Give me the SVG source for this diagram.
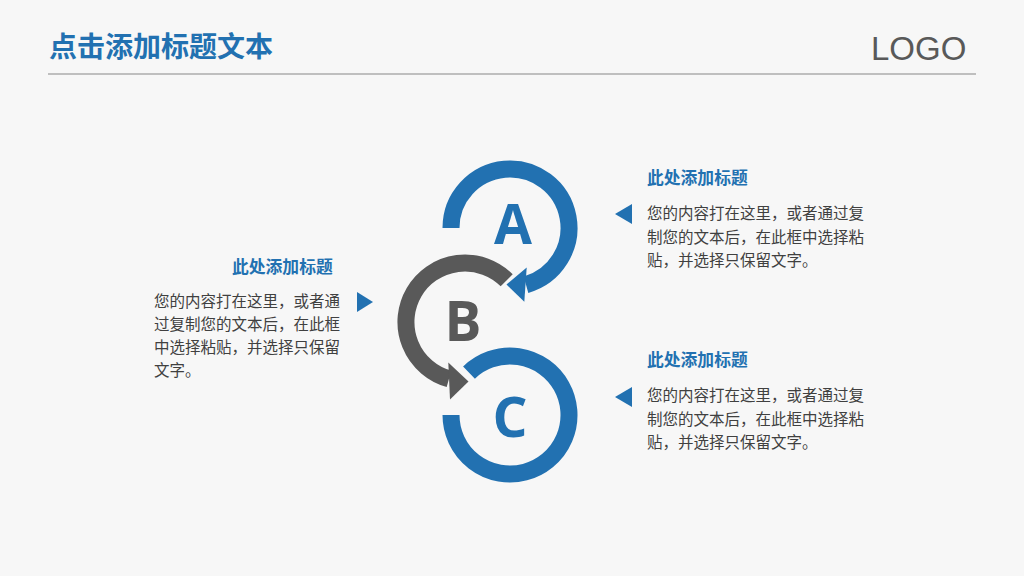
<svg xmlns="http://www.w3.org/2000/svg" width="1024" height="576" viewBox="0 0 1024 576">
  <style>
    .title { font-family: "Noto Sans CJK SC", sans-serif; font-weight: 700; font-size: 28px; fill: #2271b1; }
    .logo { font-family: "Liberation Sans", Arial, sans-serif; font-size: 33px; fill: #595959; }
    .head { font-family: "Noto Sans CJK SC", sans-serif; font-weight: 700; font-size: 16.8px; fill: #2271b1; }
    .body { font-family: "Noto Sans CJK SC", sans-serif; font-size: 15.5px; fill: #404040; }
    .ring { fill: none; stroke-width: 17; }
    .blue { stroke: #2271b1; }
    .gray { stroke: #595959; }
    .letter { font-family: "Open Sans", "Liberation Sans", sans-serif; font-weight: 700; font-size: 55px; text-anchor: middle; }
  </style>
  <rect width="1024" height="576" fill="#f7f7f7"/>

  <g id="header">
    <text class="title" x="49" y="57">点击添加标题文本</text>
    <text class="logo" x="871" y="60">LOGO</text>
    <line x1="48" y1="74" x2="976" y2="74" stroke="#bfbfbf" stroke-width="2"/>
  </g>

  <g id="connectors">
    <path class="ring blue" d="M451,228 A59,59 0 1 1 526,284.7"/>
    <polygon fill="#2271b1" points="526.7,267.5 506.5,284.5 524.3,301.8"/>
    <path class="ring gray" d="M506.7,280.3 A59,59 0 1 0 449,378.8"/>
    <polygon fill="#595959" points="448.3,362.5 468.5,381.5 450,399.5"/>
  </g>

  <g id="node-a">
    <text class="letter" x="513" y="244" fill="#2271b1">A</text>
  </g>
  <g id="node-b">
    <text class="letter" x="463" y="341" fill="#595959">B</text>
  </g>
  <g id="node-c">
    <path class="ring blue" d="M451,415 A59,59 0 1 0 469,372.6"/>
    <text class="letter" x="510" y="437" fill="#2271b1">C</text>
  </g>

  <g id="text-right-top">
    <text class="head" x="647" y="184">此处添加标题</text>
    <polygon fill="#2271b1" points="615,214 632,204 632,224"/>
    <text class="body" x="647" y="219">您的内容打在这里，或者通过复</text>
    <text class="body" x="647" y="243">制您的文本后，在此框中选择粘</text>
    <text class="body" x="647" y="266">贴，并选择只保留文字。</text>
  </g>

  <g id="text-left">
    <text class="head" x="232" y="273">此处添加标题</text>
    <polygon fill="#2271b1" points="357,292 373,302 357,312"/>
    <text class="body" x="154" y="307">您的内容打在这里，或者通</text>
    <text class="body" x="154" y="330">过复制您的文本后，在此框</text>
    <text class="body" x="154" y="353">中选择粘贴，并选择只保留</text>
    <text class="body" x="154" y="376">文字。</text>
  </g>

  <g id="text-right-bottom">
    <text class="head" x="647" y="366">此处添加标题</text>
    <polygon fill="#2271b1" points="615,397 632,387 632,407"/>
    <text class="body" x="647" y="401">您的内容打在这里，或者通过复</text>
    <text class="body" x="647" y="425">制您的文本后，在此框中选择粘</text>
    <text class="body" x="647" y="448">贴，并选择只保留文字。</text>
  </g>
</svg>
